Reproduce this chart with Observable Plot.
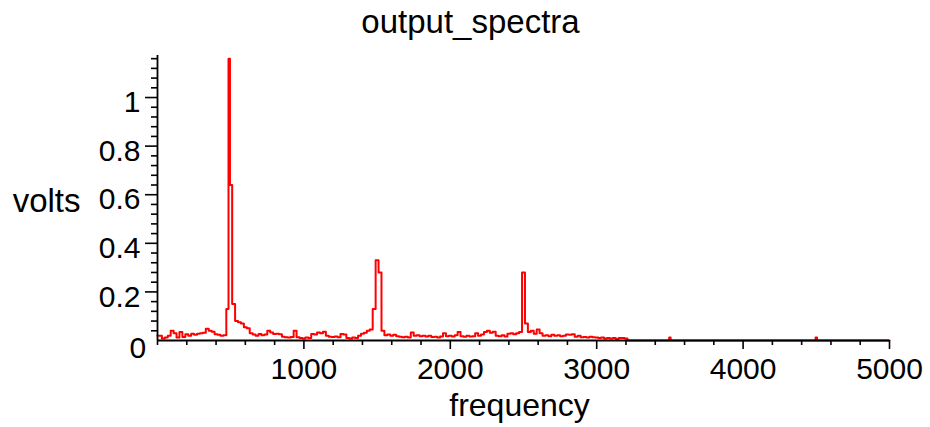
<!DOCTYPE html>
<html><head><meta charset="utf-8">
<script src="https://cdn.jsdelivr.net/npm/d3@7"></script>
<script src="https://cdn.jsdelivr.net/npm/@observablehq/plot@0.6"></script>
<style>body{margin:0;background:#fff}</style>
</head><body><div id="chart"></div>
<script>
// ---- data ----
const titleText = "output_spectra";
const xLabelText = "frequency";
const yLabelText = "volts";

const binHz = 20; // spectrum bin width, Hz (bins 0..3200)
const noiseVolts = [
  0.02, 0.02, 0.008, 0.012, 0.02, 0.04, 0.03, 0.012, 0.035, 0.014,
  0.026, 0.02, 0.028, 0.024, 0.028, 0.03, 0.032, 0.048, 0.04, 0.036,
  0.026, 0.024, 0.02, 0.022, 0.13, 0.64, 0.15, 0.08, 0.075, 0.07,
  0.055, 0.05, 0.03, 0.025, 0.02, 0.027, 0.022, 0.025, 0.04, 0.033,
  0.027, 0.028, 0.026, 0.015, 0.013, 0.012, 0.014, 0.04, 0.013, 0.01,
  0.008, 0.012, 0.01, 0.027, 0.025, 0.033, 0.03, 0.036, 0.02, 0.015,
  0.014, 0.016, 0.013, 0.027, 0.025, 0.01, 0.008, 0.012, 0.01, 0.02,
  0.028, 0.032, 0.04, 0.045, 0.13, 0.33, 0.28, 0.04, 0.022, 0.025,
  0.02, 0.024, 0.018, 0.015, 0.013, 0.015, 0.012, 0.033, 0.02, 0.022,
  0.018, 0.02, 0.016, 0.02, 0.014, 0.015, 0.012, 0.016, 0.03, 0.018,
  0.02, 0.016, 0.022, 0.035, 0.018, 0.015, 0.02, 0.016, 0.018, 0.03,
  0.02, 0.025, 0.035, 0.04, 0.032, 0.036, 0.02, 0.018, 0.022, 0.016,
  0.028, 0.03, 0.026, 0.03, 0.035, 0.28, 0.07, 0.035, 0.04, 0.028,
  0.045, 0.03, 0.02, 0.022, 0.018, 0.024, 0.02, 0.022, 0.018, 0.02,
  0.025, 0.024, 0.026, 0.015, 0.02, 0.013, 0.014, 0.012, 0.015, 0.013,
  0.012, 0.01, 0.012, 0.008, 0.01, 0.008, 0.01, 0.006, 0.01, 0.01,
  0.008
];
// extra points: the 500 Hz spike and the quiet tail above 3200 Hz
const extraFreq  = [490, 3220, 3490, 3500, 3510, 4490, 4500, 4510, 5000];
const extraVolts = [1.16, 0, 0, 0.012, 0, 0, 0.012, 0, 0];

const xMajorTicks = [1000, 2000, 3000, 4000, 5000];
const xMajorLabels = ["1000", "2000", "3000", "4000", "5000"];
const xMinorTicks = [0, 200, 400, 600, 800, 1200, 1400, 1600, 1800, 2200, 2400, 2600, 2800,
  3200, 3400, 3600, 3800, 4200, 4400, 4600, 4800];
const yMajorTicks = [0.2, 0.4, 0.6, 0.8, 1];
const yMajorLabels = ["0.2", "0.4", "0.6", "0.8", "1"];
const yMinorTicks = [0.04, 0.08, 0.12, 0.16, 0.24, 0.28, 0.32, 0.36, 0.44, 0.48, 0.52, 0.56,
  0.64, 0.68, 0.72, 0.76, 0.84, 0.88, 0.92, 0.96, 1.04, 1.08, 1.12, 1.16];
const originLabel = ["0"];

// ---- table built from the arrays ----
const table = noiseVolts.map((v, i) => ({f: i * binHz, v}))
  .concat(extraFreq.map((f, i) => ({f, v: extraVolts[i]})))
  .sort((a, b) => a.f - b.f);

const xFmt = new Map(xMajorTicks.map((t, i) => [t, xMajorLabels[i]]));
const yFmt = new Map(yMajorTicks.map((t, i) => [t, yMajorLabels[i]]));

const FONT = "'Liberation Sans', Arial, Helvetica, sans-serif";
const chart = Plot.plot({
  width: 930,
  height: 427,
  marginLeft: 157,
  marginRight: 41,
  marginTop: 55,
  marginBottom: 87,
  style: {fontFamily: FONT, background: "#fff", color: "#000", overflow: "visible"},
  x: {domain: [0, 5000]},
  y: {domain: [0, 1.173]},
  marks: [
    Plot.line(table, {x: "f", y: "v", stroke: "#ff0000", strokeWidth: 2, curve: "step"}),
    Plot.ruleY([0], {stroke: "#000", strokeWidth: 1.8}),
    Plot.ruleX([0], {stroke: "#000", strokeWidth: 1.8}),
    // x ticks
    Plot.axisX(xMinorTicks, {tickSize: 5, fill: "none", stroke: "#000", strokeWidth: 1.6, label: null}),
    Plot.axisX(xMajorTicks, {tickSize: 9, fill: "none", stroke: "#000", strokeWidth: 1.6, label: null}),
    Plot.axisX(xMajorTicks, {tickSize: 0, stroke: "none", fill: "#000", tickPadding: 17, fontSize: 30,
      tickFormat: d => xFmt.get(d), label: null}),
    // y ticks
    Plot.axisY(yMinorTicks, {tickSize: 6, fill: "none", stroke: "#000", strokeWidth: 1.6, label: null}),
    Plot.axisY(yMajorTicks, {tickSize: 12, fill: "none", stroke: "#000", strokeWidth: 1.6, label: null}),
    Plot.axisY(yMajorTicks, {tickSize: 0, stroke: "none", fill: "#000", tickPadding: 17, dy: 5, fontSize: 30,
      tickFormat: d => yFmt.get(d), label: null}),
    Plot.text(originLabel, {frameAnchor: "bottom-left", text: d => d, dx: -28, dy: 17, fontSize: 30, fill: "#000"}),
    // title and axis names
    Plot.text([titleText], {frameAnchor: "top", text: d => d, dx: -53, dy: -46, fontSize: 33, fill: "#000"}),
    Plot.text([xLabelText], {frameAnchor: "bottom", text: d => d, dx: -4, dy: 75, fontSize: 32, fill: "#000"}),
    Plot.text([yLabelText], {frameAnchor: "left", text: d => d, textAnchor: "end", dx: -77, dy: 3, fontSize: 33, fill: "#000"})
  ]
});
document.getElementById("chart").append(chart);
</script>
</body></html>
